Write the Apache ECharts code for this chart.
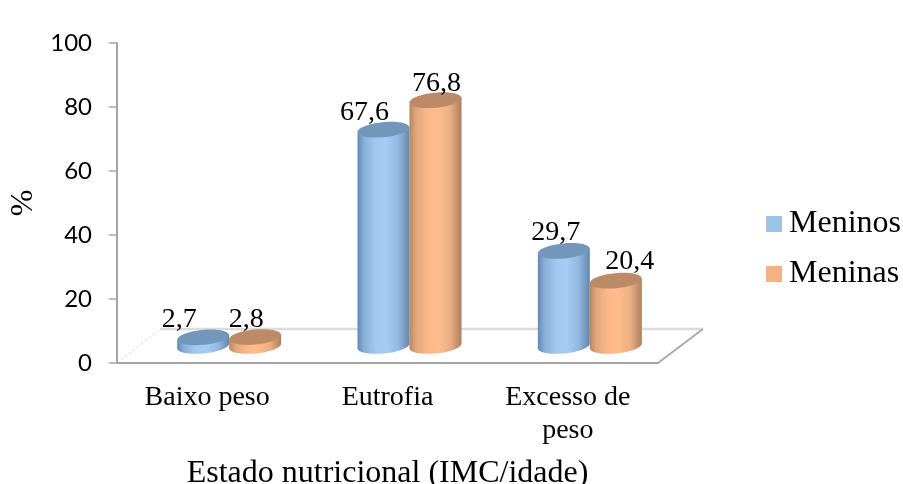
<!DOCTYPE html>
<html><head><meta charset="utf-8">
<style>html,body{margin:0;padding:0;background:#fff}#c{width:903px;height:484px}</style>
<script src="https://cdn.jsdelivr.net/npm/echarts@6/dist/echarts.min.js"></script>
</head><body><div id="c"></div>
<script>
const categories = ['Baixo peso', 'Eutrofia', 'Excesso de\npeso'];
const meninos = [2.7, 67.6, 29.7];
const meninas = [2.8, 76.8, 20.4];
const yTicks = {min: 0, max: 100, interval: 20};
const xTitle = 'Estado nutricional (IMC/idade)';
const yTitle = '%';
// hand-placed data labels: horizontal nudge and gap from the top of each cylinder
const meninosLabelNudge = [[-24, -18], [-19, -17], [-8, -18]];
const meninasLabelNudge = [[-9, -17], [1, -17], [14, -19]];

const SERIF = '"Liberation Serif","Times New Roman",serif';
const depthX = 22, depthY = -17, barW = 52, ry = 7.5, tilt = 2.5;

function grad(stops){
  return {type:'linear',x:0,y:0,x2:1,y2:0,colorStops:stops.map((c,i)=>({offset:c[0],color:c[1]}))};
}
const paletteBlue = {
  body: grad([[0,'#6389b0'],[0.12,'#86aed7'],[0.35,'#a2c8ef'],[0.55,'#a6ccf3'],[0.78,'#93b9e1'],[1,'#6486aa']]),
  top: '#7397ba'
};
const paletteOrange = {
  body: grad([[0,'#b88660'],[0.12,'#e0a67c'],[0.35,'#fbb98a'],[0.55,'#febc8c'],[0.78,'#ebaf83'],[1,'#ae7f5e']]),
  top: '#bd8a68'
};

function cylinder(side, palette, nudges){
  return function(params, api){
    const i = api.value(0), v = api.value(1);
    const base = api.coord([i, 0]), head = api.coord([i, v]);
    const cx = base[0] + depthX + side * barW / 2;
    const yb = base[1] + depthY, yt = head[1] + depthY;
    const xl = cx - barW / 2, xr = cx + barW / 2;
    const ellipse = (y, fill) => ({
      type: 'ellipse', x: cx, y: y, rotation: Math.atan2(tilt, barW / 2),
      shape: {cx: 0, cy: 0, rx: barW / 2 * 1.002, ry: ry}, style: {fill: fill}
    });
    const n = nudges[i];
    return {type: 'group', children: [
      ellipse(yb, palette.body),
      {type: 'polygon', shape: {points: [[xl, yt + tilt], [xr, yt - tilt], [xr, yb - tilt], [xl, yb + tilt]]},
       style: {fill: palette.body}},
      ellipse(yt, palette.top),
      {type: 'text', x: cx + n[0], y: yt + n[1],
       style: {text: v.toFixed(1).replace('.', ','), fontFamily: SERIF, fontSize: 28, fill: '#000',
                align: 'center', verticalAlign: 'middle'}, z2: 10}
    ]};
  };
}

const chart = echarts.init(document.getElementById('c'), null, {renderer: 'canvas'});
chart.setOption({
  animation: false,
  backgroundColor: '#fff',
  grid: {left: 117, top: 43, width: 541, height: 320, containLabel: false, outerBoundsMode: 'none'},
  legend: {
    orient: 'vertical', left: 761, top: 201, icon: 'rect', itemWidth: 16, itemHeight: 16, itemGap: 14,
    selectedMode: false,
    textStyle: {fontFamily: SERIF, fontSize: 32, color: '#000', lineHeight: 36, padding: [0, 0, 0, 2]},
    data: ['Meninos', 'Meninas']
  },
  xAxis: {
    type: 'category', data: categories, boundaryGap: true,
    name: xTitle, nameLocation: 'middle', nameGap: 95,
    nameTextStyle: {fontFamily: SERIF, fontSize: 32, color: '#000'},
    axisLine: {show: true, lineStyle: {color: '#a6a6a6', width: 2}},
    axisTick: {show: false},
    axisLabel: {fontFamily: SERIF, fontSize: 28, color: '#000', margin: 18, lineHeight: 33, interval: 0}
  },
  yAxis: {
    type: 'value', min: yTicks.min, max: yTicks.max, interval: yTicks.interval,
    name: yTitle, nameLocation: 'middle', nameGap: 76, nameRotate: 90,
    nameTextStyle: {fontFamily: SERIF, fontSize: 32, color: '#000'},
    splitLine: {show: false},
    axisLine: {show: true, lineStyle: {color: '#a6a6a6', width: 2}},
    axisTick: {show: true, length: 8, lineStyle: {color: '#a6a6a6', width: 1.5}},
    axisLabel: {fontFamily: 'Lato, sans-serif', fontSize: 24, color: '#000', margin: 25, padding: [4, 0, 0, 0]}
  },
  graphic: [
    {type: 'polyline', z: 0, shape: {points: [[117, 363], [160, 329]]},
     style: {stroke: '#dedede', lineWidth: 1, lineDash: [3, 2], fill: null}},
    {type: 'polyline', z: 0, shape: {points: [[160, 329], [703, 329]]},
     style: {stroke: '#dcdcdc', lineWidth: 2.5, fill: null}},
    {type: 'polyline', z: 0, shape: {points: [[658, 363], [703, 329]]},
     style: {stroke: '#a6a6a6', lineWidth: 1.6, fill: null}}
  ],
  series: [
    {name: 'Meninos', type: 'custom', itemStyle: {color: '#9dc3e6'}, clip: false, z: 3,
     renderItem: cylinder(-1, paletteBlue, meninosLabelNudge),
     encode: {x: 0, y: 1}, data: meninos.map((v, i) => [i, v])},
    {name: 'Meninas', type: 'custom', itemStyle: {color: '#f4b183'}, clip: false, z: 4,
     renderItem: cylinder(1, paletteOrange, meninasLabelNudge),
     encode: {x: 0, y: 1}, data: meninas.map((v, i) => [i, v])}
  ]
});
</script></body></html>
